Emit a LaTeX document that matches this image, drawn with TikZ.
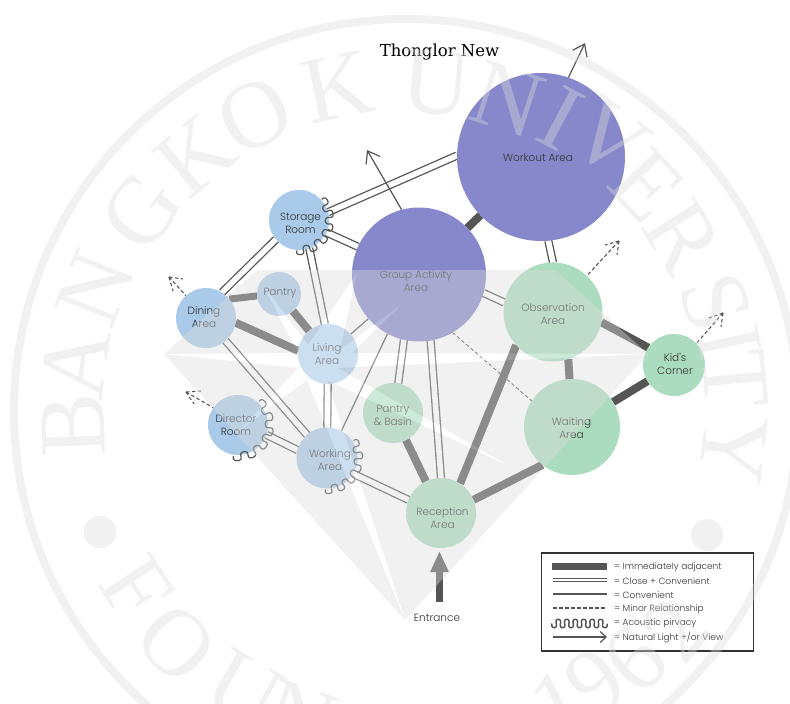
\documentclass[tikz,border=0pt]{standalone}
\usepackage{fontspec}
\usetikzlibrary{arrows.meta}
\newfontfamily\popfont{Poppins Light}
\newfontfamily\titlefont{DejaVu Serif}
\newfontfamily\sealfont{Liberation Serif}
\definecolor{lineg}{HTML}{555555}
\definecolor{purp}{HTML}{8688CB}
\definecolor{blu}{HTML}{A9CAE9}
\definecolor{grn}{HTML}{ACDCBF}
\definecolor{txt}{HTML}{333333}
\definecolor{sealg}{RGB}{220,220,220}
\newcount\sealno
\newcommand\sealtop[3]{\global\advance\sealno by 1
  \node[sealtxt,rotate=#2] (seal\the\sealno) at ({406-#3*sin(#2)},{411-#3*cos(#2)}) {#1};}
\newcommand\sealbot[3]{\global\advance\sealno by 1
  \node[sealtxt,rotate=#2] (seal\the\sealno) at ({406+#3*sin(#2)},{411+#3*cos(#2)}) {#1};}
% round wave along an arc: cx, cy, radius, start angle, end angle, periods
\newcommand\acwave[6]{\draw[acou] plot[domain=0:1,samples=140,variable=\u]
  ({#1+(#3+4.2*sin(360*#6*\u))*cos(#4+(#5-#4)*\u-0.1*(#5-#4)/#6*sin(720*#6*\u))},
   {#2+(#3+4.2*sin(360*#6*\u))*sin(#4+(#5-#4)*\u-0.1*(#5-#4)/#6*sin(720*#6*\u))});}
\tikzset{
  bub/.style={circle,inner sep=0pt,outer sep=0pt,draw=none,minimum size=#1},
  lbl/.style={align=center,text=txt,font=\popfont\fontsize{10.5}{13}\selectfont,inner sep=0pt},
  leg/.style={anchor=west,text=txt,font=\popfont\fontsize{9}{11}\selectfont,inner sep=0pt},
  adj/.style={draw=lineg,line width=8pt},
  closec/.style={draw=lineg,line width=1.3pt,double=white,double distance=5.6pt},
  conv/.style={draw=lineg,line width=1.2pt},
  minorr/.style={draw=lineg,line width=.9pt,dash pattern=on 3.5pt off 2.5pt},
  sunv/.style={draw=lineg,line width=1.2pt,-{Straight Barb[length=11pt,width=16pt,line width=1.2pt]}},
  dashv/.style={draw=lineg,line width=1.1pt,dash pattern=on 3.5pt off 2.5pt},
  acou/.style={draw=lineg,line width=1.2pt,line join=round},
  sealtxt/.style={text=sealg,inner sep=0pt,outer sep=0pt,font=\sealfont\fontsize{95}{95}\selectfont},
}
\begin{document}
\begin{tikzpicture}[x=1pt,y=-1pt]
\useasboundingbox (0,0) rectangle (790,704);
\clip (0,0) rectangle (790,704);
\fill[white] (0,0) rectangle (790,704);

\pgfdeclarelayer{bubbles}\pgfdeclarelayer{wm}
\pgfsetlayers{main,bubbles,wm}
\begin{pgfonlayer}{bubbles}
\node[bub=168pt,fill=purp] (wo) at (541,157) {};
\node[bub=134pt,fill=purp] (gr) at (419,274.5) {};
\node[bub=99pt,fill=grn] (ob) at (553,312) {};
\node[bub=96pt,fill=grn] (wa) at (572,427) {};
\node[bub=62pt,fill=grn] (ki) at (674,365) {};
\node[bub=70pt,fill=grn] (re) at (441,513) {};
\node[bub=60pt,fill=grn] (pb) at (393,413) {};
\node[bub=61pt,fill=blu] (wk) at (327,458) {};
\node[bub=60pt,fill=blu] (li) at (328,354) {};
\node[bub=44pt,fill=blu] (pa) at (279,294) {};
\node[bub=60pt,fill=blu] (di) at (206,318) {};
\node[bub=60pt,fill=blu] (st) at (299,220) {};
\node[bub=60pt,fill=blu] (dr) at (238,425) {};

\node[lbl] (lwo) at (538,158) {Workout Area};
\node[lbl] (lgr) at (416,281) {Group Activity\\Area};
\node[lbl] (lob) at (553,314) {Observation\\Area};
\node[lbl] (lwa) at (571.5,428) {Waiting\\Area};
\node[lbl] (lki) at (675,363.5) {Kid's\\Corner};
\node[lbl] (lre) at (442.5,518) {Reception\\Area};
\node[lbl] (lpb) at (393,415) {Pantry\\\& Basin};
\node[lbl] (lwk) at (330,460) {Working\\Area};
\node[lbl] (lli) at (327,354) {Living\\Area};
\node[lbl] (lpa) at (280,293) {Pantry};
\node[lbl] (ldi) at (204,317) {Dining\\Area};
\node[lbl] (lst) at (300.5,223) {Storage\\Room};
\node[lbl] (ldr) at (236,425) {Director\\Room};

% acoustic privacy
\acwave{299}{220}{30.5}{94}{-42}{5.5}
\acwave{238}{425}{31.5}{98}{-48}{5.5}
\acwave{327}{458}{31.5}{93}{-33}{5.5}
\end{pgfonlayer}

% immediately adjacent
\draw[adj] (gr) -- (wo);
\draw[adj] (ob.-12.5) -- (ki.146);
\draw[adj] (ki) -- (wa);
\draw[adj] (ob.-72.6) -- (wa.93.6);
\draw[adj] (ob.222.5) -- (re.57.6);
\draw[adj] (wa.232) -- (re.22);
\draw[adj] (pb) -- (re);
\draw[adj,line width=7pt] (di.39) -- (pa.185);
\draw[adj] (di.-9.5) -- (li.174);
\draw[adj] (pa) -- (li);
% close + convenient
\draw[closec] (st.15) -- (wo.179);
\draw[closec] (st) -- (gr);
\draw[closec] (st.220) -- (di.58);
\draw[closec] (st.-70) -- (li.96);
\draw[closec] (di) -- (wk);
\draw[closec] (li) -- (wk);
\draw[closec] (dr.-19) -- (wk.165);
\draw[closec] (wk.-31) -- (re.158);
\draw[closec] (gr.-80) -- (re.90);
\draw[closec] (gr.-103) -- (pb.80);
\draw[closec] (gr.-16) -- (ob.169);
\draw[closec] (wo.-85) -- (ob.90);
% convenient
\draw[conv] (li) -- (gr);
\draw[conv] (wk.62) -- (gr.-118);
% minor
\draw[minorr] (gr.-60) -- (wa.147);
% natural light
\coordinate (tgr) at (367,150);
\coordinate (two) at (585,43);
\draw[sunv] (gr.105) -- (tgr);
\draw[sunv] (wo.71) -- (two);
% dashed light arrows
\coordinate (tdi) at (169,277);
\coordinate (tdr) at (186,392);
\coordinate (tob) at (619,241);
\coordinate (tki) at (723,313);
\draw[dashv] (tdi) -- (di.132);
\draw[dashv] (tdi) -- ++(14,2);
\draw[dashv] (tdi) -- ++(4,14);
\draw[dashv] (tdr) -- (dr.145);
\draw[dashv] (tdr) -- ++(15,-1);
\draw[dashv] (tdr) -- ++(8,12);
\draw[dashv] (tob) -- (ob.47);
\draw[dashv] (tob) -- ++(-14,4);
\draw[dashv] (tob) -- ++(-2,14);
\draw[dashv] (tki) -- (ki.44);
\draw[dashv] (tki) -- ++(-14,5);
\draw[dashv] (tki) -- ++(-2,14);

% title, entrance
\node[inner sep=0pt,text=black,font=\titlefont\fontsize{16.5}{18}\selectfont] (title) at (439.5,52.5) {Thonglor New};
\coordinate (ena) at (439.5,602);
\coordinate (enb) at (439.5,551);
\draw[draw=lineg,line width=7.5pt,-{Triangle[length=21pt,width=17pt]}] (ena) -- (enb);
\node[lbl] (entr) at (437,618) {Entrance};

% legend
\node[draw=txt,line width=1.6pt,minimum width=212pt,minimum height=98pt,inner sep=0pt,anchor=north west] (legend) at (540.5,552) {};
\foreach \n/\y in {a/566.5,b/580,c/594,d/608,f/637}{
  \coordinate (l\n1) at (553,\y);
  \coordinate (l\n2) at (607,\y);
}
\draw[draw=lineg,line width=7pt] ([xshift=-1pt]la1) -- (la2);
\draw[draw=lineg,line width=1.2pt,double=white,double distance=2.4pt] (lb1) -- (lb2);
\draw[conv] (lc1) -- (lc2);
\draw[minorr,line width=1.1pt] (ld1) -- (ld2);
\draw[acou,line width=1.5pt] plot[domain=0:1,samples=120,variable=\u]
  ({552+55*\u-1.0*sin(720*6.5*\u)},{623.5+4.2*sin(360*6.5*\u)});
\draw[sunv,-{Straight Barb[length=6pt,width=11pt,line width=1.2pt]}] (lf1) -- (lf2);
\node[leg] (t1) at (614,567) {= Immediately adjacent};
\node[leg] (t2) at (614,581) {= Close + Convenient};
\node[leg] (t3) at (614,595) {= Convenient};
\node[leg] (t4) at (614,609) {= Minor Relationship};
\node[leg] (t5) at (614,623) {= Acoustic pirvacy};
\node[leg] (t6) at (614,637) {= Natural Light +/or View};

% watermark seal on top of everything
\begin{pgfonlayer}{wm}
\begin{scope}[transparency group,opacity=.4]
  \draw[sealg,line width=8pt] (406,411) circle[radius=392];
  \fill[sealg] (100,532) circle[radius=16];
  \fill[sealg] (707,535) circle[radius=16];
  \fill[sealg] (257,270) -- (555,270) -- (648,354) -- (405,620) -- (164,354) -- cycle;
  \fill[white] (164,354) -- (298,353) -- (263,285) -- (308,345) -- (357,273) -- (340,350)
     -- (403,303) -- (352,353) -- (648,354) -- (338,368) -- (507,465) -- (327,380)
     -- (405,620) -- (307,380) -- (240,430) -- (298,368) -- cycle;
  \sealtop{B}{92.4}{333}
  \sealtop{A}{81.7}{334}
  \sealtop{N}{68.4}{334}
  \sealtop{G}{53}{331}
  \sealtop{K}{39.6}{331}
  \sealtop{O}{27}{332}
  \sealtop{K}{11.9}{331}
  \sealtop{U}{-5.4}{329}
  \sealtop{N}{-18}{328}
  \sealtop{I}{-27.9}{331}
  \sealtop{V}{-36.7}{340}
  \sealtop{E}{-46.8}{330}
  \sealtop{R}{-57.9}{327}
  \sealtop{S}{-70.6}{328}
  \sealtop{I}{-78}{330}
  \sealtop{T}{-84.6}{331}
  \sealtop{Y}{-96.6}{330}
  \sealbot{F}{-56.5}{322}
  \sealbot{O}{-44.6}{326}
  \sealbot{U}{-30}{322}
  \sealbot{N}{-19}{325}
  \sealbot{1}{27.3}{331}
  \sealbot{9}{34.8}{331}
  \sealbot{6}{42.6}{338}
  \sealbot{2}{51}{346}
\end{scope}
\end{pgfonlayer}
\end{tikzpicture}
\end{document}
